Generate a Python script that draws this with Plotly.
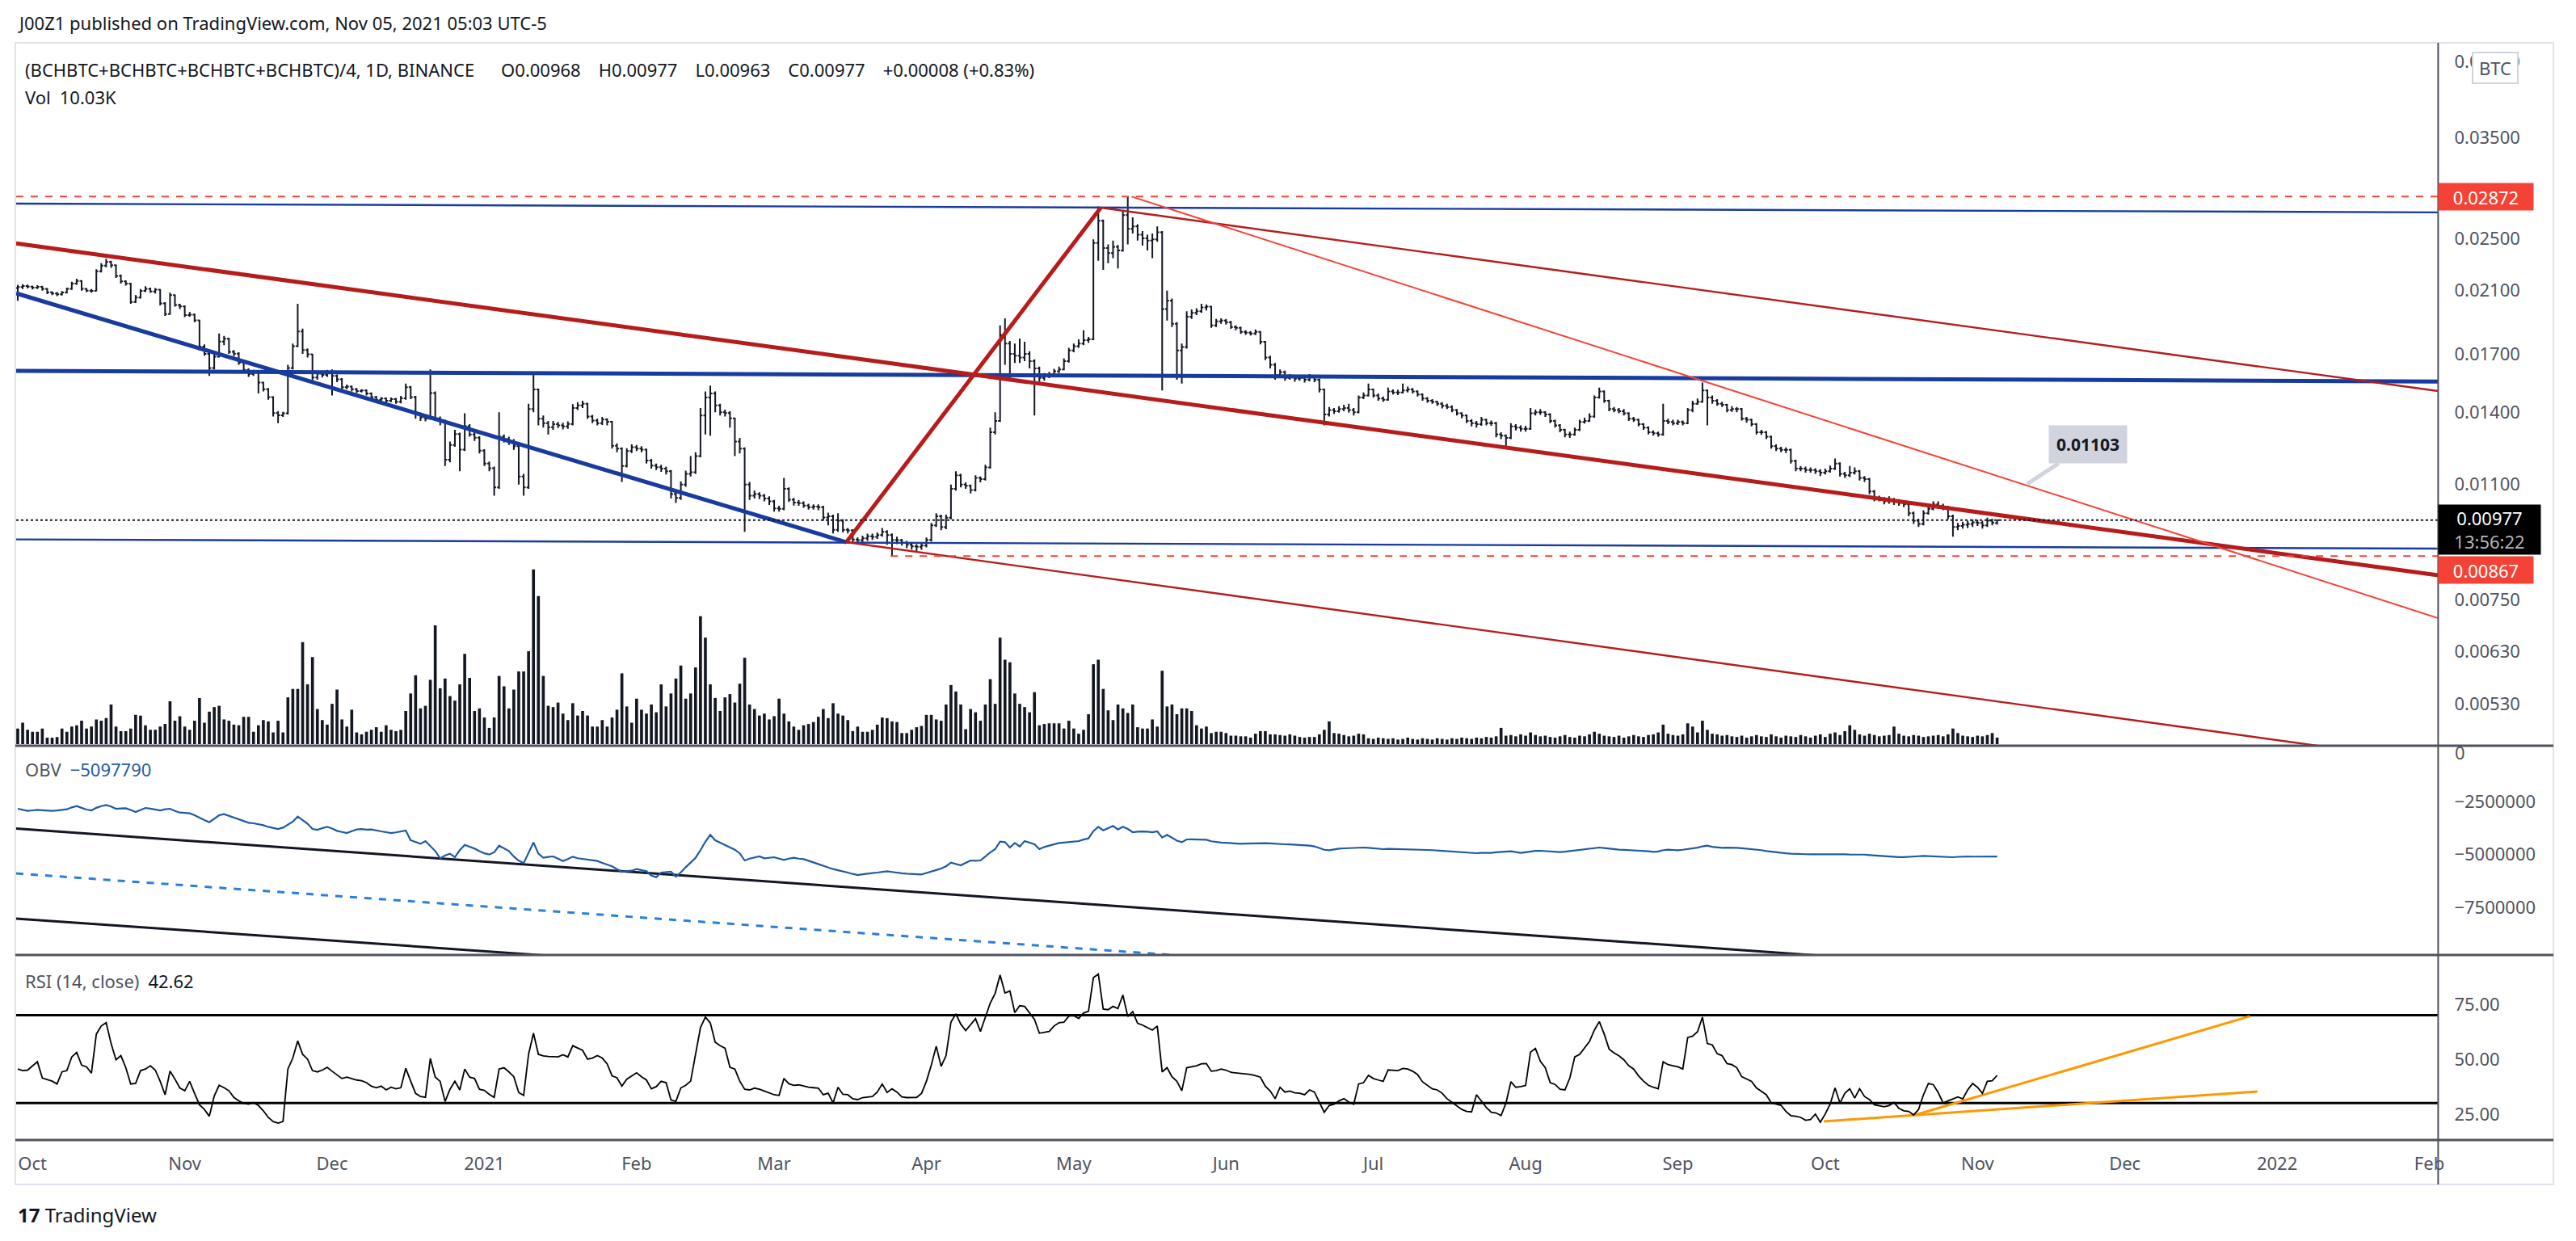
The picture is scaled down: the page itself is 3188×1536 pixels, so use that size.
import numpy as np
import pandas as pd
import plotly.graph_objects as go

W, H = 3188, 1536

# ---------------- data (price in 1e-5 BTC) ----------------
FIRST_DAY = "2020-09-28"
FIRST_OPEN = 2118
LAST_OPEN = 968
CLOSE = [
    2125, 2132, 2128, 2120, 2126, 2112, 2088, 2080, 2074, 2086,
    2112, 2150, 2168, 2112, 2100, 2098, 2240, 2282, 2310, 2285,
    2205, 2165, 2150, 2022, 2052, 2098, 2112, 2094, 2106, 2012,
    1942, 2068, 2002, 1992, 1935, 1938, 1902, 1742, 1700, 1622,
    1684, 1772, 1788, 1712, 1702, 1652, 1612, 1590, 1602, 1545,
    1512, 1472, 1396, 1386, 1395, 1622, 1745, 1832, 1722, 1698,
    1572, 1592, 1585, 1598, 1580, 1562, 1522, 1525, 1512, 1502,
    1505, 1490, 1472, 1460, 1465, 1455, 1462, 1450, 1466, 1522,
    1472, 1392, 1376, 1370, 1492, 1372, 1362, 1195, 1255, 1302,
    1236, 1336, 1300, 1286, 1232, 1180, 1162, 1090, 1290, 1280,
    1270, 1250, 1130, 1090, 1415, 1510, 1370, 1350, 1332, 1345,
    1340, 1335, 1346, 1420, 1432, 1440, 1380, 1362, 1350, 1366,
    1356, 1252, 1240, 1170, 1230, 1246, 1240, 1236, 1192, 1172,
    1166, 1160, 1150, 1066, 1052, 1100, 1140, 1146, 1210, 1385,
    1470, 1490, 1432, 1400, 1396, 1372, 1270, 1240, 1100, 1060,
    1066, 1060, 1050, 1040, 1016, 1015, 1085, 1046, 1036, 1034,
    1026, 1020, 1022, 1020, 986, 990, 946, 975, 946, 944,
    916, 914, 920, 926, 924, 930, 940, 930, 915, 914,
    906, 900, 895, 894, 898, 915, 960, 990, 955, 985,
    1085, 1135, 1100, 1096, 1080, 1125, 1120, 1165, 1310, 1360,
    1810, 1760, 1700, 1690, 1680, 1700, 1660, 1620, 1570, 1580,
    1590, 1605, 1615, 1660, 1720, 1745, 1760, 1780, 1785, 2460,
    2650, 2420, 2380, 2430, 2400, 2700, 2580, 2600, 2530, 2500,
    2480, 2490, 2550, 1975, 2030, 1880, 1720, 1740, 1925, 1950,
    1960, 1985, 1990, 1870, 1895, 1900, 1890, 1860, 1855, 1830,
    1825, 1820, 1830, 1770, 1680, 1640, 1585, 1600, 1570, 1575,
    1565, 1570, 1560, 1575, 1560, 1510, 1390, 1410, 1405, 1415,
    1420, 1410, 1400, 1470, 1480, 1510, 1480, 1465, 1460, 1500,
    1495, 1495, 1505, 1510, 1500, 1485, 1465, 1455, 1450, 1440,
    1430, 1425, 1410, 1395, 1385, 1360, 1350, 1345, 1365, 1350,
    1350, 1300, 1295, 1285, 1335, 1330, 1325, 1325, 1395, 1400,
    1400, 1390, 1360, 1340, 1320, 1300, 1300, 1320, 1355, 1360,
    1380, 1470, 1500, 1455, 1415, 1410, 1405, 1395, 1370, 1365,
    1345, 1330, 1310, 1305, 1300, 1360, 1355, 1350, 1355, 1350,
    1410, 1440, 1450, 1505, 1470, 1455, 1440, 1435, 1410, 1415,
    1415, 1370, 1365, 1345, 1310, 1310, 1290, 1250, 1240, 1235,
    1235, 1190, 1160, 1160, 1155, 1155, 1150, 1145, 1150, 1160,
    1180, 1140, 1135, 1145, 1150, 1125, 1120, 1075, 1050, 1050,
    1040, 1045, 1040, 1035, 1030, 1000, 975, 965, 1000, 1015,
    1030, 1025, 1020, 990, 955, 958, 962, 965, 970, 968,
    960, 975, 969, 977,
]
HIGH = [
    2140, 2145, 2142, 2135, 2138, 2134, 2118, 2095, 2090, 2096,
    2120, 2162, 2185, 2172, 2118, 2110, 2255, 2300, 2335, 2320,
    2290, 2215, 2172, 2155, 2068, 2110, 2130, 2120, 2118, 2110,
    2020, 2085, 2072, 2010, 1998, 1955, 1945, 1905, 1755, 1705,
    1700, 1820, 1805, 1795, 1722, 1710, 1660, 1620, 1612, 1606,
    1550, 1518, 1476, 1405, 1402, 1640, 1760, 2010, 1850, 1732,
    1700, 1605, 1600, 1612, 1615, 1588, 1568, 1535, 1530, 1518,
    1512, 1510, 1495, 1478, 1472, 1470, 1470, 1468, 1478, 1540,
    1528, 1478, 1398, 1385, 1615, 1500, 1380, 1365, 1270, 1320,
    1308, 1395, 1345, 1310, 1292, 1238, 1188, 1168, 1400, 1300,
    1290, 1280, 1255, 1140, 1440, 1600, 1515, 1385, 1360, 1360,
    1355, 1352, 1358, 1438, 1448, 1455, 1445, 1388, 1370, 1378,
    1372, 1360, 1262, 1245, 1242, 1258, 1255, 1250, 1240, 1198,
    1180, 1175, 1168, 1155, 1075, 1112, 1152, 1210, 1225, 1420,
    1500, 1530, 1500, 1440, 1412, 1405, 1375, 1285, 1245, 1110,
    1078, 1072, 1066, 1058, 1045, 1025, 1125, 1090, 1052, 1045,
    1040, 1032, 1030, 1030, 1025, 1002, 995, 1000, 980, 952,
    948, 922, 928, 934, 934, 938, 952, 945, 935, 925,
    918, 912, 906, 902, 905, 922, 968, 1000, 995, 995,
    1100, 1150, 1140, 1108, 1100, 1135, 1130, 1175, 1330, 1400,
    1870, 1915, 1775, 1760, 1790, 1770, 1715, 1670, 1630, 1595,
    1602, 1618, 1630, 1675, 1735, 1760, 1785, 1840, 1800, 2490,
    2780, 2660, 2450, 2480, 2445, 2740, 2872, 2680, 2620, 2560,
    2530, 2540, 2600, 2560, 2100, 2045, 1890, 1760, 1960, 1972,
    1980, 2010, 2005, 1995, 1910, 1915, 1910, 1898, 1870, 1862,
    1840, 1835, 1845, 1835, 1775, 1690, 1650, 1615, 1608, 1590,
    1585, 1582, 1580, 1590, 1585, 1565, 1515, 1425, 1420, 1428,
    1435, 1440, 1420, 1480, 1495, 1540, 1515, 1490, 1475, 1520,
    1510, 1508, 1540, 1525, 1518, 1505, 1490, 1472, 1462, 1455,
    1448, 1440, 1432, 1415, 1400, 1390, 1368, 1360, 1378, 1370,
    1362, 1355, 1310, 1300, 1350, 1345, 1340, 1338, 1420, 1412,
    1415, 1405, 1395, 1365, 1345, 1325, 1312, 1330, 1365, 1375,
    1395, 1480, 1520, 1505, 1460, 1425, 1420, 1415, 1400, 1378,
    1370, 1350, 1335, 1318, 1312, 1440, 1370, 1365, 1365, 1362,
    1420, 1455, 1465, 1545, 1510, 1480, 1462, 1450, 1440, 1428,
    1425, 1420, 1378, 1370, 1350, 1320, 1315, 1295, 1258, 1248,
    1245, 1240, 1195, 1170, 1168, 1165, 1162, 1158, 1160, 1172,
    1200, 1185, 1148, 1170, 1165, 1155, 1132, 1125, 1080, 1060,
    1055, 1058, 1052, 1048, 1042, 1035, 1005, 982, 1010, 1025,
    1040, 1040, 1032, 1025, 995, 968, 972, 975, 980, 978,
    975, 985, 982, 977,
]
LOW = [
    2030, 2110, 2115, 2108, 2110, 2100, 2075, 2068, 2062, 2066,
    2080, 2105, 2140, 2100, 2090, 2085, 2095, 2230, 2270, 2265,
    2190, 2150, 2135, 2010, 2015, 2045, 2090, 2085, 2080, 1998,
    1930, 1938, 1990, 1975, 1922, 1925, 1890, 1720, 1690, 1580,
    1615, 1680, 1750, 1700, 1688, 1640, 1598, 1575, 1580, 1490,
    1500, 1460, 1380, 1350, 1378, 1390, 1615, 1740, 1700, 1680,
    1540, 1560, 1572, 1575, 1480, 1548, 1510, 1512, 1500, 1492,
    1495, 1480, 1462, 1450, 1452, 1445, 1448, 1440, 1442, 1460,
    1462, 1370, 1360, 1358, 1365, 1360, 1340, 1170, 1185, 1248,
    1150, 1230, 1290, 1272, 1220, 1170, 1150, 1060, 1085, 1265,
    1255, 1235, 1100, 1060, 1085, 1400, 1340, 1330, 1300, 1320,
    1328, 1322, 1325, 1340, 1410, 1420, 1370, 1350, 1340, 1342,
    1340, 1240, 1225, 1110, 1165, 1222, 1230, 1225, 1180, 1160,
    1155, 1148, 1138, 1050, 1035, 1045, 1092, 1130, 1140, 1205,
    1300, 1295, 1400, 1385, 1380, 1330, 1210, 1220, 940, 1045,
    1050, 1048, 1040, 1028, 1005, 1005, 1010, 1038, 1026, 1025,
    1018, 1012, 1012, 1010, 975, 960, 935, 940, 938, 935,
    908, 905, 906, 912, 915, 918, 925, 900, 867, 902,
    898, 890, 886, 880, 885, 892, 910, 955, 945, 948,
    980, 1078, 1090, 1085, 1068, 1075, 1108, 1115, 1160, 1300,
    1355, 1640, 1560, 1650, 1650, 1660, 1620, 1385, 1550, 1555,
    1568, 1580, 1595, 1610, 1652, 1710, 1735, 1750, 1765, 1780,
    2320, 2250, 2300, 2340, 2260, 2390, 2450, 2540, 2480, 2440,
    2400, 2340, 2470, 1505, 1900, 1860, 1560, 1540, 1730, 1910,
    1935, 1950, 1965, 1855, 1860, 1880, 1875, 1848, 1840, 1818,
    1812, 1808, 1810, 1755, 1665, 1620, 1560, 1570, 1555, 1560,
    1550, 1555, 1545, 1552, 1548, 1495, 1340, 1380, 1392, 1398,
    1405, 1398, 1385, 1395, 1462, 1475, 1470, 1455, 1450, 1455,
    1485, 1482, 1490, 1495, 1490, 1475, 1455, 1445, 1440, 1430,
    1418, 1415, 1400, 1385, 1372, 1350, 1335, 1330, 1338, 1340,
    1338, 1288, 1280, 1250, 1280, 1318, 1312, 1312, 1320, 1385,
    1388, 1378, 1350, 1330, 1310, 1288, 1285, 1295, 1315, 1348,
    1355, 1375, 1465, 1445, 1405, 1400, 1395, 1385, 1360, 1355,
    1335, 1320, 1300, 1295, 1290, 1295, 1345, 1340, 1342, 1340,
    1345, 1400, 1435, 1445, 1340, 1440, 1430, 1425, 1400, 1402,
    1400, 1362, 1352, 1335, 1300, 1298, 1280, 1240, 1230, 1225,
    1222, 1180, 1150, 1150, 1145, 1145, 1140, 1132, 1138, 1145,
    1155, 1130, 1125, 1128, 1138, 1115, 1110, 1065, 1040, 1040,
    1030, 1032, 1028, 1025, 1020, 990, 965, 955, 960, 995,
    1010, 1015, 1010, 980, 925, 945, 950, 952, 955, 958,
    950, 955, 960, 963,
]
VOLUME_K = [
    24, 33, 22, 19, 19, 24, 10, 10, 11, 24,
    19, 27, 29, 36, 24, 27, 38, 36, 40, 61,
    27, 20, 20, 24, 45, 44, 29, 22, 22, 27,
    31, 66, 36, 43, 27, 22, 36, 71, 33, 50,
    57, 59, 38, 36, 30, 29, 42, 42, 19, 29,
    37, 35, 18, 36, 18, 72, 85, 85, 157, 92,
    134, 54, 37, 30, 62, 84, 38, 27, 53, 18,
    15, 19, 22, 26, 19, 29, 22, 20, 22, 51,
    78, 106, 55, 59, 99, 183, 86, 101, 74, 67,
    92, 139, 102, 51, 55, 41, 25, 41, 105, 89,
    55, 84, 112, 112, 143, 269, 228, 105, 59, 57,
    64, 47, 37, 63, 44, 51, 44, 27, 27, 37,
    27, 41, 53, 109, 58, 33, 70, 53, 47, 61,
    49, 92, 58, 78, 101, 121, 70, 78, 118, 197,
    164, 92, 71, 51, 72, 77, 64, 93, 133, 61,
    54, 44, 47, 38, 43, 70, 47, 35, 27, 22,
    29, 31, 34, 42, 54, 40, 63, 47, 44, 37,
    20, 27, 19, 19, 22, 30, 41, 40, 35, 34,
    17, 17, 22, 26, 28, 45, 45, 38, 36, 61,
    91, 81, 61, 23, 54, 49, 36, 61, 100, 62,
    164, 130, 126, 78, 62, 57, 49, 80, 29, 31,
    32, 32, 32, 24, 36, 24, 16, 22, 46, 123,
    130, 85, 52, 37, 61, 55, 48, 61, 26, 24,
    24, 38, 27, 113, 58, 61, 46, 55, 55, 51,
    29, 24, 27, 17, 19, 19, 17, 13, 13, 12,
    12, 10, 16, 20, 20, 15, 15, 14, 13, 15,
    13, 11, 10, 11, 11, 15, 22, 35, 17, 16,
    14, 12, 13, 16, 15, 9, 8, 10, 9, 8,
    9, 7, 8, 10, 8, 7, 9, 8, 7, 9,
    8, 7, 9, 8, 10, 9, 8, 10, 9, 11,
    10, 12, 25, 13, 14, 12, 15, 13, 18, 14,
    12, 13, 11, 10, 12, 14, 11, 10, 13, 12,
    15, 19, 16, 13, 12, 11, 13, 10, 12, 14,
    12, 11, 14, 15, 18, 30, 16, 14, 13, 15,
    32, 27, 18, 36, 22, 16, 15, 13, 14, 12,
    11, 13, 10, 12, 14, 12, 11, 15, 12, 10,
    13, 12, 11, 14, 12, 10, 13, 15, 11, 16,
    18, 14, 20, 29, 22, 15, 13, 16, 14, 12,
    13, 14, 27, 16, 13, 12, 14, 13, 11, 12,
    13, 14, 12, 15, 24, 17, 13, 12, 11, 13,
    12, 14, 17, 10.03,
]
OBV_M = [
    -2.844, -2.900, -2.946, -2.920, -2.895, -2.915, -2.940, -2.946, -2.925, -2.895,
    -2.870, -2.780, -2.717, -2.800, -2.880, -2.920, -2.800, -2.720, -2.666, -2.740,
    -2.844, -2.830, -2.819, -2.900, -2.997, -2.900, -2.806, -2.840, -2.880, -2.920,
    -2.870, -2.844, -2.950, -3.022, -3.040, -3.060, -3.150, -3.276, -3.380, -3.480,
    -3.300, -3.150, -3.098, -3.180, -3.276, -3.350, -3.440, -3.505, -3.530, -3.569,
    -3.620, -3.700, -3.760, -3.798, -3.735, -3.607, -3.450, -3.213, -3.378, -3.550,
    -3.798, -3.836, -3.760, -3.696, -3.780, -3.887, -3.940, -3.989, -3.900, -3.824,
    -3.800, -3.830, -3.824, -3.880, -3.913, -3.950, -3.989, -3.960, -3.913, -3.870,
    -4.332, -4.420, -4.498, -4.371, -4.600, -4.841, -5.185, -5.050, -4.969, -5.134,
    -4.800, -4.549, -4.640, -4.727, -4.850, -4.950, -5.007, -4.900, -4.587, -4.700,
    -4.841, -5.100, -5.300, -5.414, -4.900, -4.434, -4.969, -5.160, -5.120, -5.096,
    -5.200, -5.312, -5.223, -5.108, -5.180, -5.220, -5.261, -5.290, -5.312, -5.400,
    -5.480, -5.566, -5.700, -5.821, -5.790, -5.770, -5.694, -5.750, -5.796, -6.000,
    -6.075, -5.859, -5.840, -5.821, -6.050, -5.850, -5.605, -5.380, -5.160, -4.800,
    -4.400, -4.078, -4.332, -4.450, -4.549, -4.650, -4.778, -4.950, -5.287, -5.200,
    -5.150, -5.096, -5.185, -5.150, -5.134, -5.200, -5.261, -5.200, -5.160, -5.200,
    -5.223, -5.300, -5.380, -5.439, -5.520, -5.600, -5.694, -5.750, -5.796, -5.860,
    -5.923, -5.974, -5.940, -5.897, -5.880, -5.859, -5.830, -5.796, -5.830, -5.872,
    -5.890, -5.910, -5.923, -5.935, -5.948, -5.880, -5.796, -5.740, -5.668, -5.560,
    -5.389, -5.450, -5.516, -5.400, -5.287, -5.300, -5.287, -5.100, -4.905, -4.752,
    -4.396, -4.422, -4.676, -4.460, -4.625, -4.371, -4.450, -4.523, -4.752, -4.650,
    -4.587, -4.520, -4.460, -4.440, -4.422, -4.400, -4.371, -4.300, -4.243, -3.900,
    -3.696, -3.862, -3.760, -3.658, -3.824, -3.696, -3.800, -3.951, -3.930, -3.913,
    -3.930, -3.951, -3.913, -4.205, -4.078, -4.200, -4.350, -4.422, -4.294, -4.290,
    -4.294, -4.294, -4.310, -4.380, -4.422, -4.440, -4.450, -4.470, -4.480, -4.498,
    -4.490, -4.480, -4.470, -4.460, -4.470, -4.480, -4.500, -4.510, -4.523, -4.530,
    -4.540, -4.560, -4.575, -4.587, -4.620, -4.700, -4.780, -4.803, -4.760, -4.730,
    -4.714, -4.700, -4.690, -4.680, -4.676, -4.690, -4.710, -4.730, -4.752, -4.740,
    -4.745, -4.750, -4.752, -4.748, -4.750, -4.752, -4.770, -4.790, -4.800, -4.815,
    -4.830, -4.841, -4.860, -4.880, -4.900, -4.920, -4.935, -4.943, -4.930, -4.935,
    -4.930, -4.900, -4.880, -4.860, -4.854, -4.890, -4.930, -4.900, -4.860, -4.835,
    -4.829, -4.845, -4.860, -4.880, -4.892, -4.870, -4.840, -4.800, -4.778, -4.750,
    -4.720, -4.690, -4.676, -4.700, -4.730, -4.760, -4.778, -4.785, -4.795, -4.803,
    -4.815, -4.830, -4.850, -4.880, -4.860, -4.800, -4.778, -4.790, -4.803, -4.780,
    -4.750, -4.714, -4.680, -4.620, -4.587, -4.640, -4.676, -4.690, -4.680, -4.676,
    -4.690, -4.710, -4.730, -4.752, -4.775, -4.800, -4.841, -4.870, -4.900, -4.943,
    -4.950, -4.965, -4.981, -4.985, -4.990, -4.994, -4.992, -4.994, -4.990, -4.985,
    -4.981, -4.990, -4.995, -5.007, -5.000, -5.007, -5.010, -5.030, -5.050, -5.070,
    -5.090, -5.110, -5.134, -5.128, -5.125, -5.121, -5.100, -5.085, -5.070, -5.085,
    -5.100, -5.108, -5.115, -5.120, -5.134, -5.115, -5.096, -5.100, -5.105, -5.108,
    -5.105, -5.095, -5.102, -5.09779,
]
RSI = [
    45.5, 44.8, 45.0, 47.0, 48.8, 41.4, 40.8, 40.0, 38.7, 44.2,
    44.8, 51.0, 53.1, 47.3, 46.5, 43.6, 61.4, 65.1, 66.6, 57.1,
    49.7, 51.6, 46.1, 38.7, 39.0, 44.8, 45.5, 47.0, 45.0, 39.9,
    33.8, 44.6, 40.9, 36.9, 35.6, 39.9, 34.4, 29.2, 27.1, 24.0,
    33.2, 38.1, 37.0, 35.6, 32.6, 31.0, 29.9, 29.5, 30.2, 28.9,
    26.5, 23.5, 21.6, 20.9, 21.6, 45.5, 50.5, 58.3, 52.2, 50.0,
    44.8, 44.2, 45.0, 46.3, 44.5, 43.0, 41.2, 41.8, 41.2, 40.5,
    40.2, 39.3, 37.7, 37.0, 37.7, 36.0, 37.2, 36.5, 37.0, 45.8,
    40.0, 34.4, 33.0, 32.6, 50.3, 41.8, 39.9, 30.7, 36.3, 39.9,
    36.0, 45.5, 41.8, 41.2, 36.3, 35.8, 34.0, 32.6, 45.5, 46.1,
    44.2, 42.0, 34.8, 33.5, 52.2, 61.8, 52.2, 51.5, 51.2, 51.0,
    51.0, 52.0, 51.0, 56.1, 55.0, 54.0, 50.0, 50.5, 51.6, 50.5,
    47.9, 42.4, 41.5, 37.7, 40.9, 42.5, 43.8, 42.0, 40.5, 36.5,
    37.5, 39.9, 39.3, 31.4, 30.8, 36.9, 38.1, 40.0, 52.2, 64.4,
    69.1, 66.5, 57.7, 56.1, 55.0, 46.3, 45.5, 40.0, 36.3, 36.0,
    36.8, 36.3, 35.5, 34.5, 33.8, 33.5, 41.2, 38.8, 38.1, 38.3,
    37.8, 37.2, 37.0, 36.8, 33.8, 34.5, 30.1, 37.2, 34.0, 33.8,
    32.0, 31.6, 32.5, 32.8, 33.0, 35.0, 38.7, 34.8, 36.5, 35.0,
    32.8, 32.5, 32.6, 32.6, 34.4, 39.9, 47.3, 55.9, 46.7, 51.6,
    66.9, 70.6, 65.9, 63.0, 65.7, 68.4, 62.6, 69.4, 75.5, 80.0,
    88.3, 80.1, 81.0, 71.2, 74.3, 74.0, 71.2, 68.1, 61.8, 62.2,
    62.6, 65.1, 66.6, 66.8, 69.6, 69.8, 68.5, 71.0, 71.8, 87.1,
    88.7, 72.8, 72.5, 74.0, 73.0, 79.2, 69.4, 71.6, 66.3, 65.5,
    64.5, 63.2, 65.1, 44.2, 46.1, 42.0, 39.9, 35.6, 46.1, 46.5,
    47.0, 47.9, 48.0, 44.5, 44.8, 45.5, 45.0, 44.0, 43.8, 43.6,
    43.4, 43.0, 42.5, 41.8, 37.7, 35.5, 32.0, 37.2, 35.0, 35.5,
    34.7, 34.5, 33.8, 36.0, 35.0, 30.1, 25.8, 28.9, 29.5, 31.0,
    32.0, 30.5, 29.5, 38.7, 39.3, 42.6, 41.2, 40.5, 39.9, 45.1,
    45.0, 44.8, 45.8, 45.5, 44.5, 43.0, 39.7, 38.0, 36.5, 36.0,
    34.5, 32.0, 30.4, 28.5, 27.1, 26.2, 26.0, 33.8, 31.1, 28.0,
    25.8, 25.5, 24.3, 30.0, 39.7, 37.2, 37.5, 38.0, 53.2, 54.9,
    49.0, 46.1, 39.3, 38.5, 36.3, 36.0, 41.4, 51.0, 52.2, 55.0,
    58.0, 63.2, 67.1, 61.4, 54.6, 52.8, 51.5, 49.7, 47.0, 45.5,
    42.4, 40.0, 38.1, 37.2, 36.5, 48.8, 47.5, 47.0, 46.5, 45.5,
    59.8, 60.5, 62.5, 69.1, 57.1, 56.5, 52.5, 51.6, 48.0, 47.5,
    46.1, 42.0, 41.0, 39.9, 36.9, 35.5, 33.8, 30.1, 29.5, 29.0,
    26.2, 24.3, 24.0, 23.5, 22.2, 22.5, 25.0, 21.3, 25.0, 29.5,
    36.9, 30.0, 34.5, 36.5, 32.3, 36.5, 33.0, 31.6, 29.2, 28.8,
    28.3, 28.9, 30.3, 27.6, 26.5, 26.2, 24.6, 27.1, 33.8, 38.9,
    38.4, 34.8, 30.1, 31.0, 31.9, 32.8, 31.9, 36.0, 38.9, 37.2,
    34.4, 39.9, 40.2, 42.62,
]

PRICE_TICKS = [0.045, 0.035, 0.025, 0.021, 0.017, 0.014, 0.011, 0.0075, 0.0063, 0.0053]
OBV_TICKS = [-2500000, -5000000, -7500000]
RSI_TICKS = [75, 50, 25]
MONTH_TICKS = ["2020-10-01", "2020-11-01", "2020-12-01", "2021-01-01", "2021-02-01",
               "2021-03-01", "2021-04-01", "2021-05-01", "2021-06-01", "2021-07-01",
               "2021-08-01", "2021-09-01", "2021-10-01", "2021-11-01", "2021-12-01",
               "2022-01-01", "2022-02-01"]
MONTH_TEXT = ["Oct", "Nov", "Dec", "2021", "Feb", "Mar", "Apr", "May", "Jun", "Jul",
              "Aug", "Sep", "Oct", "Nov", "Dec", "2022", "Feb"]

X_START, X_END = "2020-09-27 16:00", "2022-02-02 19:00"
PRICE_RANGE = [0.004607, 0.04795]
VOL_RANGE = [-2.5, 1080]
OBV_RANGE = [-9.752e6, 0.134e6]
RSI_RANGE = [13.2, 97.4]

# drawings: (style, date0, value0, date1, value1)
PRICE_DRAWINGS = [
    ("thin_blue", X_START, 0.02806, X_END, 0.02725),
    ("thin_blue", X_START, 0.009163, X_END, 0.008886),
    ("thick_blue", X_START, 0.01607, X_END, 0.01551),
    ("thick_blue", X_START, 0.02081, "2021-03-15 17:00", 0.009079),
    ("thick_red", X_START, 0.02457, X_END, 0.008131),
    ("thick_red", "2021-03-15 17:00", 0.009079, "2021-05-06 12:00", 0.02768),
    ("thin_red", "2021-05-06 12:00", 0.02768, X_END, 0.015022),
    ("thin_red", "2021-03-15 17:00", 0.009079, X_END, 0.004358),
    ("light_red", "2021-05-12 19:00", 0.02872, X_END, 0.007048),
    ("dash_red", X_START, 0.02872, X_END, 0.02872),
    ("dash_red", "2021-03-24 17:00", 0.00867, X_END, 0.00867),
    ("dot_black", X_START, 0.00977, X_END, 0.00977),
]
OBV_DRAWINGS = [
    ("obv_black", X_START, -3.78e6, X_END, -11.84e6),
    ("obv_black", X_START, -8.03e6, "2021-03-01", -10.53e6),
    ("obv_dash", X_START, -5.898e6, "2021-06-15", -10.16e6),
]
RSI_DRAWINGS = [
    ("rsi_level", X_START, 70, X_END, 70),
    ("rsi_level", X_START, 30, X_END, 30),
    ("orange", "2021-09-30 17:00", 21.7, "2021-12-28 00:00", 35.3),
    ("orange", "2021-10-19 07:00", 24.6, "2021-12-26 10:00", 69.5),
]
CALLOUT = ("2021-11-11 02:00", 0.01102, "0.01103")

INK = "#131722"
AXIS_TXT = "#50535e"
FONT = "Noto Sans"
STYLES = {
    "thin_blue": dict(color="#173b9f", width=2.4),
    "thick_blue": dict(color="#173b9f", width=5),
    "thick_red": dict(color="#b71c1c", width=5),
    "thin_red": dict(color="#b71c1c", width=2.4),
    "light_red": dict(color="#f44336", width=2),
    "dash_red": dict(color="#f44336", width=2, dash="dash"),
    "dot_black": dict(color=INK, width=2, dash="dot"),
    "obv_black": dict(color=INK, width=3),
    "obv_dash": dict(color="#2a7fd8", width=3, dash="dash"),
    "rsi_level": dict(color="#000000", width=3),
    "orange": dict(color="#ff9800", width=3),
}


def px(x):
    return x / W


def py(y):
    return 1 - y / H


dates = pd.date_range(FIRST_DAY, periods=len(CLOSE), freq="D")
close = np.array(CLOSE) * 1e-5
opens = np.array([FIRST_OPEN] + CLOSE[:-2] + [LAST_OPEN]) * 1e-5
high = np.array(HIGH) * 1e-5
low = np.array(LOW) * 1e-5

fig = go.Figure()

fig.add_trace(go.Bar(x=dates, y=VOLUME_K, marker_color=INK, marker_line_width=0,
                     width=0.6 * 86400000, xaxis="x", yaxis="y", hoverinfo="skip"))

for style, d0, v0, d1, v1 in PRICE_DRAWINGS:
    fig.add_trace(go.Scatter(x=[d0, d1], y=[v0, v1], mode="lines", line=STYLES[style],
                             xaxis="x", yaxis="y2", hoverinfo="skip"))

fig.add_trace(go.Ohlc(x=dates, open=opens, high=high, low=low, close=close,
                      increasing_line_color=INK, decreasing_line_color=INK,
                      line_width=2, tickwidth=0.4, xaxis="x", yaxis="y2", hoverinfo="skip"))

for style, d0, v0, d1, v1 in OBV_DRAWINGS:
    fig.add_trace(go.Scatter(x=[d0, d1], y=[v0, v1], mode="lines", line=STYLES[style],
                             xaxis="x2", yaxis="y3", hoverinfo="skip"))
fig.add_trace(go.Scatter(x=dates, y=np.array(OBV_M) * 1e6, mode="lines",
                         line=dict(color="#1e5aa3", width=2.2), xaxis="x2", yaxis="y3",
                         hoverinfo="skip"))

for style, d0, v0, d1, v1 in RSI_DRAWINGS:
    fig.add_trace(go.Scatter(x=[d0, d1], y=[v0, v1], mode="lines", line=STYLES[style],
                             xaxis="x3", yaxis="y4", hoverinfo="skip"))
fig.add_trace(go.Scatter(x=dates, y=RSI, mode="lines", line=dict(color="#000000", width=1.8),
                         xaxis="x3", yaxis="y4", hoverinfo="skip"))

xdom = [px(20), px(3025)]
common_x = dict(domain=xdom, type="date", range=[X_START, X_END], showgrid=False,
                zeroline=False, showline=False, ticks="", fixedrange=True)
tick_font = dict(family=FONT, size=22, color=AXIS_TXT)
right_y = dict(side="right", showgrid=False, zeroline=False, showline=False, ticks="",
               ticklabelstandoff=19, tickfont=tick_font, fixedrange=True)

fig.update_layout(
    width=W, height=H, margin=dict(l=0, r=0, t=0, b=0),
    paper_bgcolor="white", plot_bgcolor="white", showlegend=False,
    font=dict(family=FONT, color=INK),
    xaxis=dict(common_x, anchor="y", showticklabels=False, rangeslider=dict(visible=False)),
    yaxis=dict(domain=[py(923), py(53)], range=VOL_RANGE, visible=False, fixedrange=True),
    yaxis2=dict(right_y, overlaying="y", anchor="x", type="log",
                range=[np.log10(PRICE_RANGE[0]), np.log10(PRICE_RANGE[1])],
                tickmode="array", tickvals=PRICE_TICKS,
                ticktext=[f"{v:.5f}" for v in PRICE_TICKS]),
    xaxis2=dict(common_x, anchor="y3", matches="x", showticklabels=False),
    yaxis3=dict(right_y, domain=[py(1182), py(923)], anchor="x2", range=OBV_RANGE,
                tickmode="array", tickvals=OBV_TICKS, tickformat="d"),
    xaxis3=dict(common_x, anchor="y4", matches="x", tickmode="array",
                tickvals=MONTH_TICKS, ticktext=MONTH_TEXT, tickfont=tick_font,
                ticklabelstandoff=14),
    yaxis4=dict(right_y, domain=[py(1411), py(1182)], anchor="x3", range=RSI_RANGE,
                tickmode="array", tickvals=RSI_TICKS, tickformat=".2f"),
)

# frame, pane dividers and price-scale line
shapes = [
    dict(type="rect", xref="paper", yref="paper", x0=px(19), x1=px(3168), y0=py(1466),
         y1=py(53), line=dict(color="#e0e3eb", width=2), layer="below"),
    dict(type="line", xref="paper", yref="paper", x0=px(3025), x1=px(3025), y0=py(1466),
         y1=py(53), line=dict(color="#50535e", width=2)),
]
for yy in (923, 1182, 1411):
    shapes.append(dict(type="line", xref="paper", yref="paper", x0=px(19), x1=px(3168),
                       y0=py(yy), y1=py(yy), line=dict(color="#50535e", width=3)))
fig.update_layout(shapes=shapes)

last = dict(o=opens[-1], h=high[-1], l=low[-1], c=close[-1])
chg = close[-1] - close[-2]
sp = "\u2003"
legend1 = ("(BCHBTC+BCHBTC+BCHBTC+BCHBTC)/4, 1D, BINANCE" + sp + "\u2002" +
           f"O{last['o']:.5f}" + sp + f"H{last['h']:.5f}" + sp + f"L{last['l']:.5f}" + sp +
           f"C{last['c']:.5f}" + sp + f"+{chg:.5f} (+{chg / close[-2] * 100:.2f}%)")

ann = [
    dict(text="J00Z1 published on TradingView.com, Nov 05, 2021 05:03 UTC-5",
         x=px(20), y=py(28), font=dict(size=22, color=INK)),
    dict(text=legend1, x=px(29), y=py(86), font=dict(size=22, color=INK)),
    dict(text=f"Vol\u2002{VOLUME_K[-1]:.2f}K", x=px(29), y=py(120), font=dict(size=22, color=INK)),
    dict(text="OBV\u2002<span style='color:#1e5aa3'>\u2212" + f"{abs(OBV_M[-1]) * 1e6:.0f}</span>",
         x=px(29), y=py(952), font=dict(size=22, color=AXIS_TXT)),
    dict(text="RSI (14, close)\u2002<span style='color:#131722'>" + f"{RSI[-1]:.2f}</span>",
         x=px(29), y=py(1214), font=dict(size=22, color=AXIS_TXT)),
    dict(text="<b>17</b> TradingView", x=px(20), y=py(1503), font=dict(size=24, color=INK)),
    dict(text="0", x=px(3044), y=py(931), font=tick_font),
]
for a in ann:
    a.update(xref="paper", yref="paper", xanchor="left", yanchor="middle", showarrow=False)

# price scale labels
box = dict(xref="paper", yref="y2", x=px(3025), xanchor="left", yanchor="middle",
           showarrow=False, borderpad=0, align="center")
ann += [
    dict(box, y=np.log10(0.02872), text="0.02872", bgcolor="#f44336", width=117, height=33,
         font=dict(family=FONT, size=22, color="white")),
    dict(box, y=np.log10(0.00867), yshift=-17, text="0.00867", bgcolor="#f44336", width=117,
         height=33, font=dict(family=FONT, size=22, color="white")),
    dict(box, y=np.log10(close[-1]), yshift=-12, width=126, height=61, bgcolor="#000000",
         text=f"{close[-1]:.5f}<br><span style='color:#b2b5be'>13:56:22</span>",
         font=dict(family=FONT, size=22, color="white")),
    dict(xref="paper", yref="paper", x=px(3096), y=py(84), xanchor="center", yanchor="middle",
         text="BTC", showarrow=False, bgcolor="white", bordercolor="#d1d4dc", borderwidth=2,
         borderpad=4, width=46, height=28, font=dict(family=FONT, size=22, color=AXIS_TXT)),
    dict(xref="x", yref="y2", x=CALLOUT[0], y=np.log10(CALLOUT[1]), text=f"<b>{CALLOUT[2]}</b>",
         showarrow=True, arrowhead=0, arrowwidth=5, arrowcolor="#d1d4dc", ax=75, ay=-49,
         standoff=0, bgcolor="#d1d4dc", borderpad=9, font=dict(family=FONT, size=21, color=INK)),
]
fig.update_layout(annotations=ann)

fig.write_html("out.html", config=dict(displayModeBar=False, staticPlot=True),
               post_script="document.body.style.margin='0px';document.body.style.overflow='hidden';")
